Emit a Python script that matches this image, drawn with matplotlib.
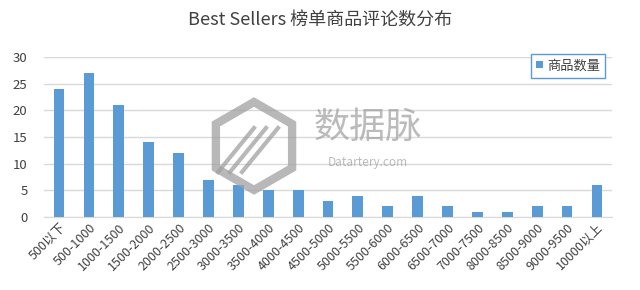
import matplotlib.pyplot as plt
import numpy as np
from matplotlib.patches import RegularPolygon

plt.rcParams['font.family'] = ['Noto Sans CJK SC', 'DejaVu Sans']

categories = ["500以下", "500-1000", "1000-1500", "1500-2000", "2000-2500",
              "2500-3000", "3000-3500", "3500-4000", "4000-4500", "4500-5000",
              "5000-5500", "5500-6000", "6000-6500", "6500-7000", "7000-7500",
              "8000-8500", "8500-9000", "9000-9500", "10000以上"]
counts = [24, 27, 21, 14, 12, 7, 6, 5, 5, 3, 4, 2, 4, 2, 1, 1, 2, 2, 6]
yticks = [0, 5, 10, 15, 20, 25, 30]

fig = plt.figure(figsize=(6.4, 2.9), dpi=100)
ax = fig.add_axes([0.069, 0.252, 0.887, 0.551])

x = np.arange(len(categories))
ax.bar(x, counts, width=0.36, color='#5B9BD5', label='商品数量', zorder=3)

ax.set_ylim(0, 30)
ax.set_yticks(yticks)
ax.set_xlim(-0.5, len(categories) - 0.5)
ax.set_xticks(x)
ax.set_xticklabels(categories, rotation=45, ha='right', rotation_mode='anchor',
                   fontsize=9, color='#404040')
ax.tick_params(axis='y', labelsize=9.5, colors='#404040', length=0, pad=12)
ax.tick_params(axis='x', length=0, pad=3)
ax.grid(axis='y', color='#D9D9D9', linewidth=1, zorder=0)
for s in ['top', 'right', 'left']:
    ax.spines[s].set_visible(False)
ax.spines['bottom'].set_color('#D9D9D9')

leg = ax.legend(loc='upper right', bbox_to_anchor=(1.0, 1.06), fontsize=9.5,
                handlelength=0.5, handleheight=0.5, handletextpad=0.3,
                borderpad=0.4, fancybox=False, framealpha=1)
leg.get_frame().set_edgecolor('#5B9BD5')
leg.get_frame().set_linewidth(1)
for t in leg.get_texts():
    t.set_color('#404040')

fig.text(0.5, 0.93, 'Best Sellers 榜单商品评论数分布', ha='center', va='center',
         fontsize=13, color='#404040')

# watermark
hexa = RegularPolygon((2.54, 1.44), numVertices=6, radius=0.44, orientation=0,
                      transform=fig.dpi_scale_trans, fill=False,
                      edgecolor='#A0A0A0', linewidth=6, alpha=0.75, zorder=5)
fig.patches.append(hexa)
for dx in (-0.12, 0.0, 0.12):
    fig.add_artist(plt.Line2D([2.30 + dx, 2.66 + dx], [1.18, 1.62],
                              transform=fig.dpi_scale_trans, color='#A0A0A0',
                              linewidth=3, alpha=0.75, zorder=5))
fig.text(0.574, 0.559, '数据脉', ha='center', va='center', fontsize=26,
         color='#9E9E9E', alpha=0.7, zorder=5)
fig.text(0.574, 0.438, 'Datartery.com', ha='center', va='center', fontsize=8.5,
         color='#9E9E9E', alpha=0.7, zorder=5)

fig.savefig('out.png', dpi=100)
